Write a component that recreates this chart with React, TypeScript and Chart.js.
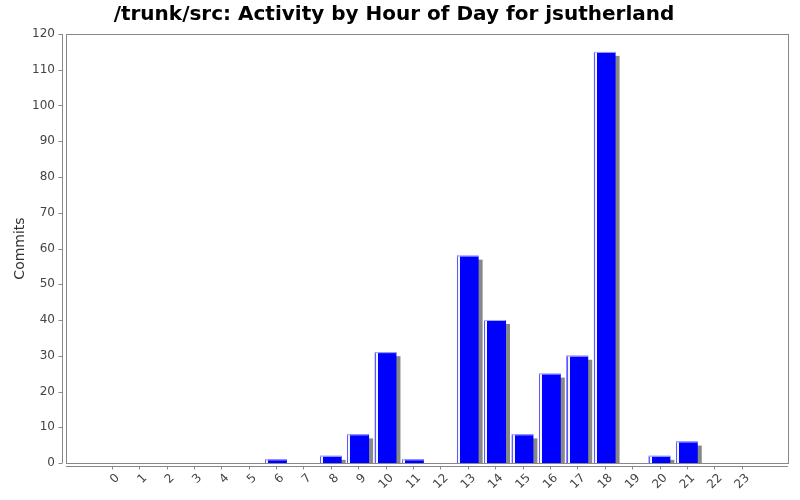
import React, { useEffect, useRef } from "react";
import { Chart, registerables } from "chart.js";

Chart.register(...registerables);

const TITLE = "/trunk/src: Activity by Hour of Day for jsutherland";
const Y_LABEL = "Commits";
const hours = [0, 1, 2, 3, 4, 5, 6, 7, 8, 9, 10, 11, 12, 13, 14, 15, 16, 17, 18, 19, 20, 21, 22, 23];
const commits = [0, 0, 0, 0, 0, 0, 1, 0, 2, 8, 31, 1, 0, 58, 40, 8, 25, 30, 115, 0, 2, 6, 0, 0];
const yMax = 120;
const yStep = 10;

const FRAME = "#888888";
const BAR = "#0000ff";
const SHADOW = "#888888";

const decorPlugin = {
  id: "decor",
  beforeDatasetsDraw(chart: any) {
    const { ctx, chartArea } = chart;
    const meta = chart.getDatasetMeta(0);
    ctx.save();
    ctx.beginPath();
    ctx.rect(chartArea.left, chartArea.top, chartArea.right - chartArea.left, chartArea.bottom - chartArea.top);
    ctx.clip();
    ctx.fillStyle = SHADOW;
    meta.data.forEach((el: any, i: number) => {
      if (!commits[i]) return;
      const w = el.width;
      const left = el.x - w / 2 + 4;
      const top = el.y + 4;
      ctx.fillRect(left, top, w, el.base - top);
    });
    ctx.restore();
  },
  afterDatasetsDraw(chart: any) {
    const { ctx } = chart;
    const meta = chart.getDatasetMeta(0);
    ctx.save();
    meta.data.forEach((el: any, i: number) => {
      if (!commits[i]) return;
      const w = el.width;
      const left = Math.round(el.x - w / 2);
      ctx.fillStyle = "rgba(90,90,255,1)";
      ctx.fillRect(left, el.y, 1, el.base - el.y);
      ctx.fillStyle = "rgba(245,245,255,1)";
      ctx.fillRect(left + 1, el.y, 2, el.base - el.y);
      ctx.fillStyle = "rgba(170,170,255,1)";
      ctx.fillRect(left, el.y, w, 1);
    });
    ctx.restore();
  },
  afterDraw(chart: any) {
    const { ctx, chartArea, scales } = chart;
    const { left, right, top, bottom } = chartArea;
    ctx.save();
    ctx.strokeStyle = FRAME;
    ctx.lineWidth = 1;
    ctx.strokeRect(Math.round(left) + 0.5, Math.round(top) + 0.5, Math.round(right - left), Math.round(bottom - top));
    const ax = Math.round(left) - 4 + 0.5;
    ctx.beginPath();
    ctx.moveTo(ax, top);
    ctx.lineTo(ax, bottom);
    scales.y.ticks.forEach((t: any) => {
      const py = Math.round(scales.y.getPixelForValue(t.value)) + 0.5;
      ctx.moveTo(ax - 4, py);
      ctx.lineTo(ax, py);
    });
    const ay = Math.round(bottom) + 3 + 0.5;
    ctx.moveTo(left, ay);
    ctx.lineTo(right, ay);
    scales.x.ticks.forEach((t: any) => {
      const px = Math.round(scales.x.getPixelForValue(t.value)) + 0.5;
      ctx.moveTo(px, ay);
      ctx.lineTo(px, ay + 3);
    });
    ctx.stroke();
    ctx.restore();
  },
};

export default function App() {
  const ref = useRef<HTMLCanvasElement | null>(null);

  useEffect(() => {
    document.body.style.margin = "0";
    Chart.defaults.font.family = "'DejaVu Sans', sans-serif";
    const canvas = ref.current;
    if (!canvas) return;
    const chart = new Chart(canvas, {
      type: "bar",
      data: {
        datasets: [
          {
            data: hours.map((h, i) => ({ x: h, y: commits[i] })),
            backgroundColor: BAR,
            borderWidth: 0,
            barPercentage: 0.79,
            categoryPercentage: 1,
          },
        ],
      },
      options: {
        animation: false,
        responsive: true,
        maintainAspectRatio: false,
        devicePixelRatio: 1,
        layout: { padding: { left: 0, right: 12, top: 0, bottom: 0 } },
        plugins: {
          legend: { display: false },
          tooltip: { enabled: false },
          title: {
            display: true,
            text: TITLE,
            color: "#000",
            font: { size: 20, weight: "bold", family: "'DejaVu Sans', sans-serif" },
            padding: { top: 3, bottom: 7 },
          },
        },
        scales: {
          x: {
            type: "linear",
            offset: false,
            min: -1.67,
            max: 24.69,
            grid: { display: false, drawTicks: false },
            border: { display: false },
            afterBuildTicks: (s: any) => {
              s.ticks = hours.map((h) => ({ value: h }));
            },
            ticks: {
              autoSkip: false,
              minRotation: 45,
              maxRotation: 45,
              color: "#444",
              font: { size: 12 },
              padding: 8,
              labelOffset: 6,
              callback: (v: any) => String(v),
            },
            afterFit: (s: any) => {
              s.height = 37;
            },
          },
          y: {
            min: 0,
            max: yMax,
            grid: { display: false, drawTicks: false },
            border: { display: false },
            ticks: { stepSize: yStep, color: "#444", font: { size: 12 }, padding: 11 },
            title: { display: true, text: Y_LABEL, color: "#333", font: { size: 14 }, padding: { top: 12, bottom: 0 } },
            afterFit: (s: any) => {
              s.width = 66;
            },
          },
        },
      },
      plugins: [decorPlugin],
    });
    return () => chart.destroy();
  }, []);

  return (
    <div style={{ width: 800, height: 500, position: "relative" }}>
      <canvas ref={ref} />
    </div>
  );
}
